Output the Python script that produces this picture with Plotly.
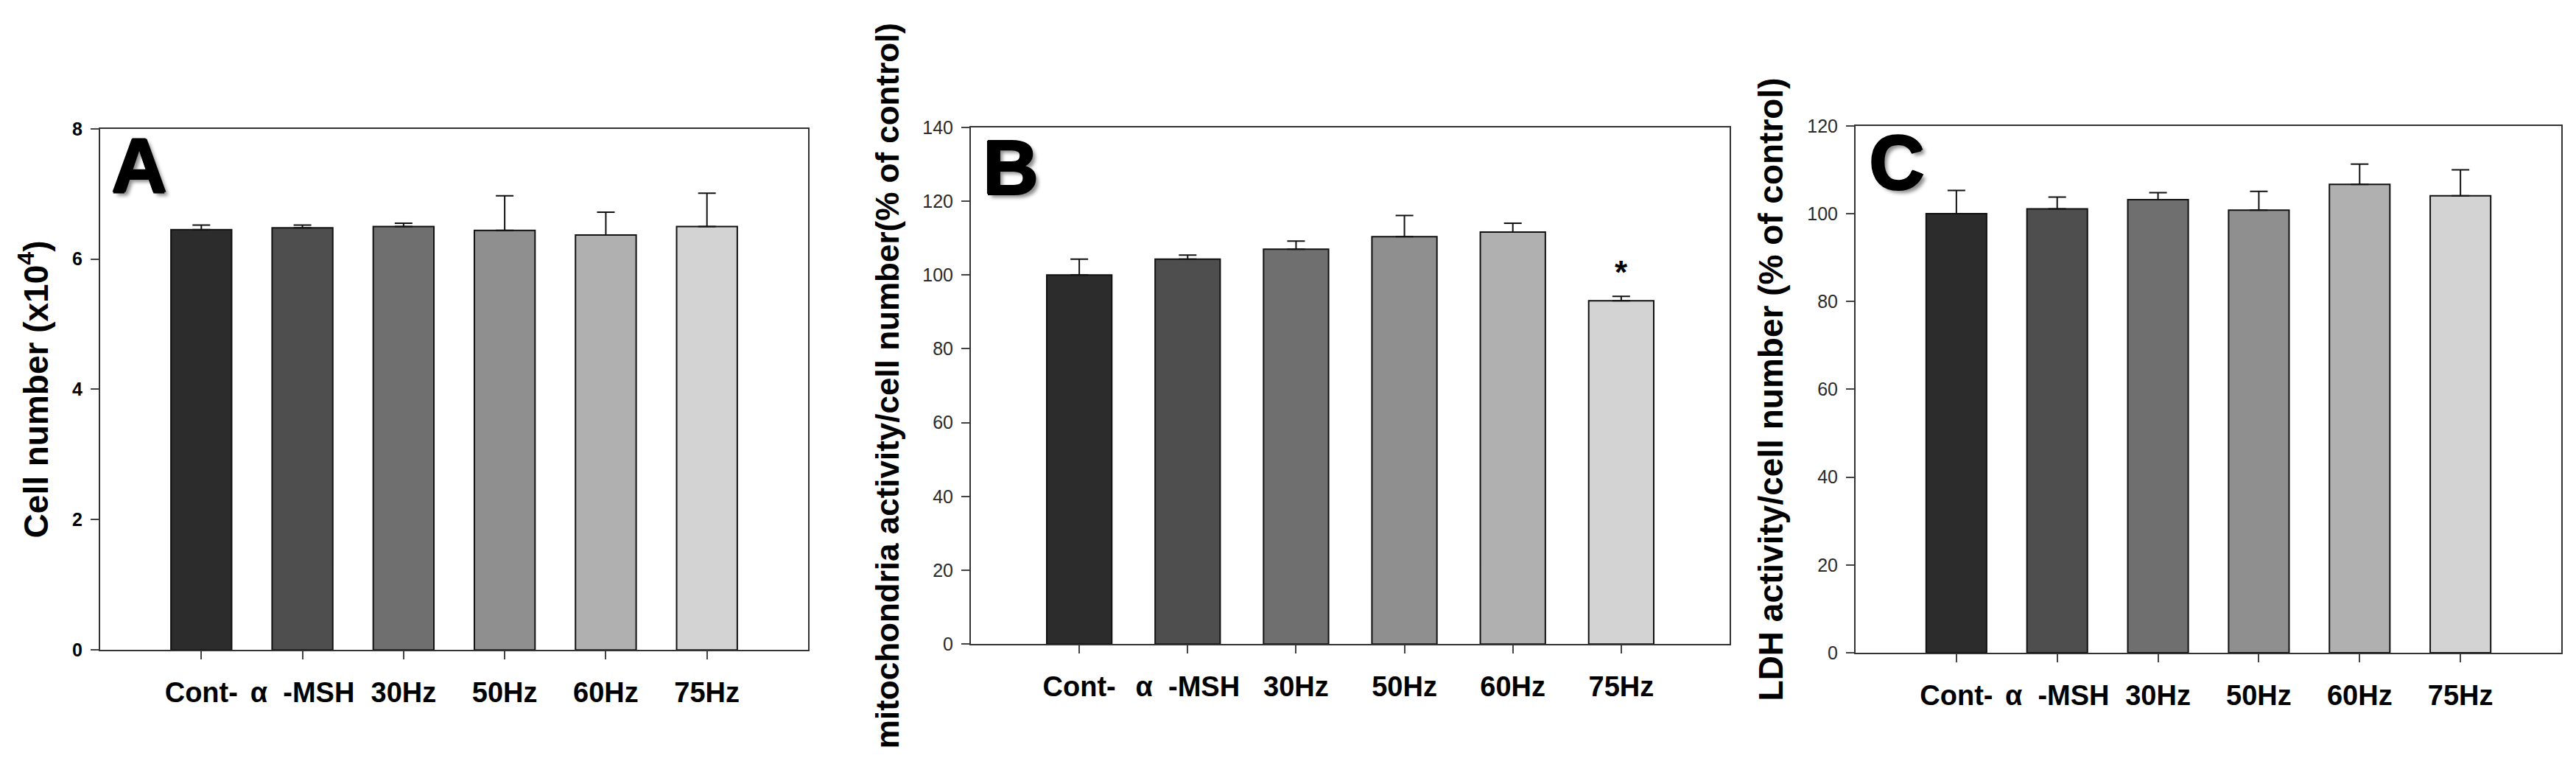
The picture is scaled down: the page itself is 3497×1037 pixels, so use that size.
import plotly.graph_objects as go

# ---------------- data ----------------
categories = ["Cont-", "α\u00a0\u00a0-MSH", "30Hz", "50Hz", "60Hz", "75Hz"]

cell_number = [6.45, 6.48, 6.50, 6.44, 6.37, 6.50]
cell_number_err = [0.07, 0.04, 0.05, 0.53, 0.35, 0.51]

mito_activity = [100.0, 104.3, 107.0, 110.4, 111.6, 93.0]
mito_activity_err = [4.3, 1.1, 2.2, 5.7, 2.4, 1.2]

ldh_activity = [100.0, 101.1, 103.2, 100.8, 106.7, 104.1]
ldh_activity_err = [5.3, 2.7, 1.6, 4.3, 4.6, 5.9]

a_ticks = [0, 2, 4, 6, 8]
b_ticks = [0, 20, 40, 60, 80, 100, 120, 140]
c_ticks = [0, 20, 40, 60, 80, 100, 120]

bar_colors = ["#2c2c2c", "#4e4e4e", "#6f6f6f", "#8f8f8f", "#b0b0b0", "#d3d3d3"]

# ---------------- layout geometry (pixels) ----------------
W, H = 3497, 1037
FONT = "Liberation Sans, Arial, sans-serif"


def xdom(l, r):
    return [l / W, r / W]


def ydom(top, bottom):
    return [1 - bottom / H, 1 - top / H]


panels = [
    dict(vals=cell_number, errs=cell_number_err, ticks=a_ticks, rng=[0, 8],
         xd=xdom(128, 1089), yd=ydom(157, 884),
         title="Cell number (x10<sup>4</sup>)", tsize=46, tbold=True, letter="A",
         lx=0.014, ly=0.930),
    dict(vals=mito_activity, errs=mito_activity_err, ticks=b_ticks, rng=[0, 140],
         xd=xdom(1310, 2340), yd=ydom(155, 876),
         title="mitochondria activity/cell number(% of control)", tsize=44, tbold=False,
         letter="B", lx=0.014, ly=0.923),
    dict(vals=ldh_activity, errs=ldh_activity_err, ticks=c_ticks, rng=[0, 120],
         xd=xdom(2511, 3469), yd=ydom(153, 888),
         title="LDH activity/cell number (% of control)", tsize=46, tbold=False,
         letter="C", lx=0.017, ly=0.931),
]

LETTER_SHADOW = ("1px 0 0 #000, -1px 0 0 #000, 0 1px 0 #000, 0 -1px 0 #000, "
                 "2px 0 0 #000, 0 2px 0 #000, 5px 5px 5px rgba(0,0,0,0.45)")

fig = go.Figure()
annotations = []
for i, p in enumerate(panels, start=1):
    sx = "" if i == 1 else str(i)
    fig.add_trace(go.Bar(
        x=categories, y=p["vals"],
        xaxis="x" + sx, yaxis="y" + sx,
        marker=dict(color=bar_colors, line=dict(color="#111111", width=2)),
        error_y=dict(type="data", symmetric=False, array=p["errs"],
                     arrayminus=[0] * len(p["errs"]),
                     color="#111111", thickness=2, width=12),
        showlegend=False,
    ))
    fig.update_layout(**{
        "xaxis" + sx: dict(
            domain=p["xd"], anchor="y" + sx, type="category", range=[-1, 6],
            showline=True, mirror=True, linecolor="#333333", linewidth=2,
            ticks="outside", ticklen=11, tickwidth=2, tickcolor="#444444",
            tickfont=dict(family=FONT, size=38, color="#000000", weight="bold"),
            ticklabelstandoff=12, showgrid=False, zeroline=False, fixedrange=True,
        ),
        "yaxis" + sx: dict(
            domain=p["yd"], anchor="x" + sx, range=p["rng"],
            tickmode="array", tickvals=p["ticks"],
            showline=True, mirror=True, linecolor="#333333", linewidth=2,
            ticks="outside", ticklen=11, tickwidth=2, tickcolor="#444444",
            tickfont=dict(family=FONT, size=25,
                          color="#000000" if p["tbold"] else "#2a2a2a",
                          weight="bold" if p["tbold"] else "normal"),
            ticklabelstandoff=6,
            showgrid=False, zeroline=False, fixedrange=True,
            title=dict(text=p["title"], standoff=18,
                       font=dict(family=FONT, size=p["tsize"], color="#000000", weight="bold")),
        ),
    })
    annotations.append(dict(
        text=p["letter"], xref=f"x{sx} domain", yref=f"y{sx} domain",
        x=p["lx"], y=p["ly"], xanchor="left", yanchor="middle", showarrow=False,
        font=dict(family=FONT, size=104, color="#000000", weight="bold",
                  shadow=LETTER_SHADOW),
    ))

# significance marker on the 75Hz bar of panel B
annotations.append(dict(
    text="*", xref="x2", yref="y2", x=categories[5],
    y=mito_activity[5] + mito_activity_err[5], xanchor="center", yanchor="bottom",
    showarrow=False, yshift=6,
    font=dict(family=FONT, size=44, color="#000000", weight="bold"),
))

fig.update_layout(
    width=W, height=H, margin=dict(l=0, r=0, t=0, b=0),
    paper_bgcolor="white", plot_bgcolor="white",
    bargap=0.4, annotations=annotations,
)

fig.write_html("out.html")
